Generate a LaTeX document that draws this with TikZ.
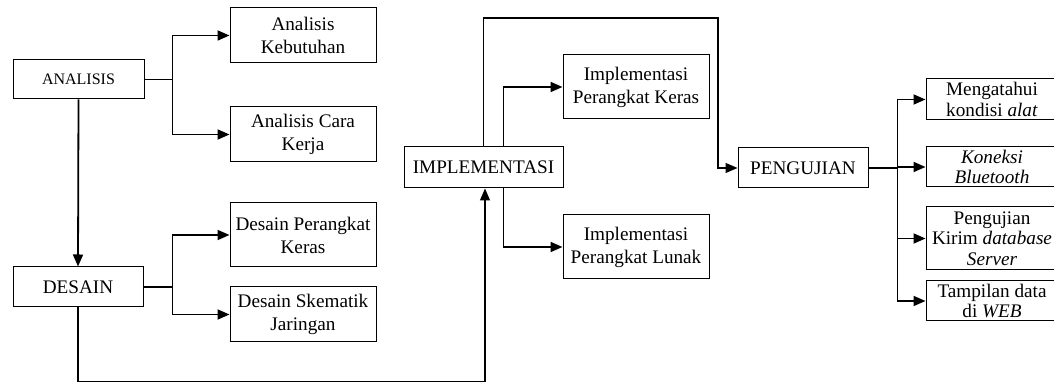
\documentclass[tikz,border=0pt]{standalone}
\usepackage{fontspec}
\setmainfont{Liberation Serif}
\usetikzlibrary{arrows.meta,positioning}

\begin{document}
\begin{tikzpicture}[x=0.5pt,y=-0.5pt,
    box/.style={rectangle,draw,line width=0.5pt,minimum width=73pt,minimum height=#1,inner sep=1pt,align=center,font=\fontsize{9.6}{11.5}\selectfont},
    box/.default=27.5pt,
    stage/.style={rectangle,draw,line width=0.5pt,minimum width=65pt,minimum height=20pt,inner sep=1pt,font=\fontsize{9.6}{11.5}\selectfont},
    test/.style={rectangle,draw,line width=0.5pt,minimum width=66pt,minimum height=#1,inner sep=0pt,align=center,font=\fontsize{9.6}{10.3}\selectfont},
    arrow/.style={-{Triangle[length=6pt,width=5pt]},line width=0.9pt},
    route/.style={-{Triangle[length=6pt,width=5pt]},line width=0.6pt}
]

% === Frame (right boxes run past the edge) ===
\useasboundingbox (0,0) rectangle (1054,383);
\clip (0,0) rectangle (1054,383);

% === ANALISIS ===
\node[stage,minimum width=65.5pt,minimum height=19.5pt,font=\fontsize{8}{9}\selectfont] (an) at (78.5,79.5) {ANALISIS};
\node[box] (ak) at (303,35.5) {Analisis\\Kebutuhan};
\node[box] (ac) at (303,134.5) {Analisis Cara\\Kerja};

% === DESAIN ===
\node[stage] (ds) at (78,287) {DESAIN};
\node[box=32pt] (dk) at (303,235) {Desain Perangkat\\Keras};
\node[box] (dj) at (303,314.5) {Desain Skematik\\Jaringan};

% === IMPLEMENTASI ===
\node[stage,minimum width=79.5pt,minimum height=20.5pt] (im) at (483.5,167.5) {IMPLEMENTASI};
\node[box=32pt] (ik) at (636,87) {Implementasi\\Perangkat Keras};
\node[box=32pt] (il) at (636,247) {Implementasi\\Perangkat Lunak};

% === PENGUJIAN ===
\node[stage] (pg) at (803,168) {PENGUJIAN};
\node[test=20.5pt] (mk) at (992,99.5) {Mengatahui\\kondisi \textit{alat}};
\node[test=20pt] (kb) at (992,167) {\textit{Koneksi}\\\textit{Bluetooth}};
\node[test=31.5pt] (pk) at (992,238.5) {Pengujian\\Kirim \textit{database}\\\textit{Server}};
\node[test=20pt] (tw) at (992,301) {Tampilan data\\di \textit{WEB}};

% === Connectors ===
\draw[arrow] (an.east) -- ++(28,0) |- (ak.west);
\draw[arrow] (an.east) -- ++(28,0) |- (ac.west);
\draw[arrow] (an.south) -- (ds.north);

\draw[arrow] (ds.east) -- ++(29,0) |- (dk.west);
\draw[arrow] (ds.east) -- ++(29,0) |- (dj.west);
\draw[route] (ds.south) -- ++(0,74) -| ([xshift=0.75pt]im.south);

\draw[arrow] ([xshift=10pt]im.north) |- (ik.west);
\draw[arrow] ([xshift=10pt]im.south) |- (il.west);
\coordinate (turn) at (718,18);
\draw[route] (im.north) |- (turn) |- (pg.west);

\draw[arrow] (pg.east) -- ++(29,0) |- (mk.west);
\draw[arrow] (pg.east) -- ++(29,0) |- (kb.west);
\draw[arrow] (pg.east) -- ++(29,0) |- (pk.west);
\draw[arrow] (pg.east) -- ++(29,0) |- (tw.west);

\end{tikzpicture}
\end{document}
